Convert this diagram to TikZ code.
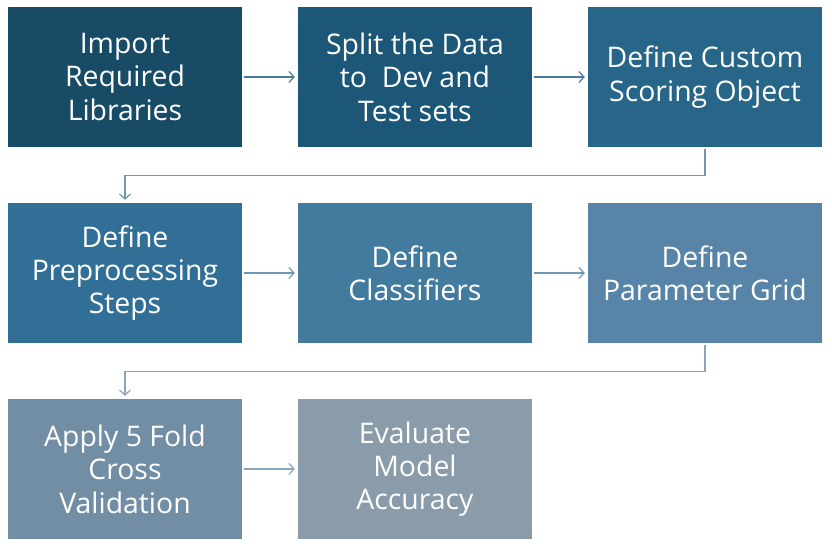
\documentclass[tikz,border=0pt]{standalone}
\usepackage{fontspec}
\setmainfont{Open Sans}
\usetikzlibrary{arrows.meta}
\definecolor{c1}{HTML}{174B66}
\definecolor{c2}{HTML}{1D5777}
\definecolor{c3}{HTML}{276688}
\definecolor{c4}{HTML}{316F96}
\definecolor{c5}{HTML}{437B9F}
\definecolor{c6}{HTML}{5885A7}
\definecolor{c7}{HTML}{728EA5}
\definecolor{c8}{HTML}{8A9BA9}
\definecolor{a1}{HTML}{4A7A9C}
\definecolor{a2}{HTML}{6E97B5}
\definecolor{a3}{HTML}{8AA4BA}
\tikzset{
  box/.style={fill=#1, draw=none, minimum width=234bp, minimum height=140bp,
    inner sep=0pt, text=white, align=center,
    font=\fontsize{28.5}{33.5}\selectfont},
  conn/.style={draw=#1, line width=1.2bp, -{Straight Barb[length=5bp,width=11bp,line width=1.2bp]}},
}
\begin{document}
\begin{tikzpicture}[x=1bp,y=-1bp]
\useasboundingbox (0,0) rectangle (832,549);
\node[box=c1] (b1) at (125,77) {Import\\Required\\Libraries};
\node[box=c2] (b2) at (415,77) {Split the Data\\to\ \ Dev and\\Test sets};
\node[box=c3] (b3) at (705,77) {Define Custom\\Scoring Object};
\node[box=c4] (b4) at (125,273) {Define\\Preprocessing\\Steps};
\node[box=c5] (b5) at (415,273) {Define\\Classifiers};
\node[box=c6] (b6) at (705,273) {Define\\Parameter Grid};
\node[box=c7] (b7) at (125,469) {Apply 5 Fold\\Cross\\Validation};
\node[box=c8] (b8) at (415,469) {Evaluate\\Model\\Accuracy};
\draw[conn=a1, shorten <=2bp, shorten >=3bp] (b1) -- (b2);
\draw[conn=a1, shorten <=2bp, shorten >=3bp] (b2) -- (b3);
\draw[conn=a2, shorten <=2bp, shorten >=3bp] (b4) -- (b5);
\draw[conn=a2, shorten <=2bp, shorten >=3bp] (b5) -- (b6);
\draw[conn=a3, shorten <=2bp, shorten >=3bp] (b7) -- (b8);
\draw[conn=a2, shorten <=2bp, shorten >=3bp] (b3.south) -- ++(0,28) -| (b4.north);
\draw[conn=a3, shorten <=2bp, shorten >=3bp] (b6.south) -- ++(0,28) -| (b7.north);
\end{tikzpicture}
\end{document}
